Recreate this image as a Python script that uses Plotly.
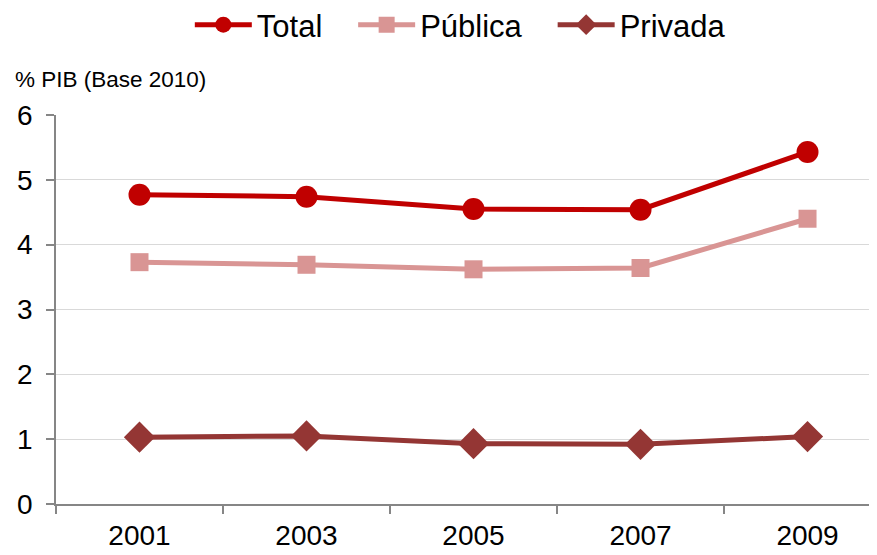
import plotly.graph_objects as go

years = ["2001", "2003", "2005", "2007", "2009"]
total = [4.77, 4.74, 4.55, 4.54, 5.43]
publica = [3.73, 3.69, 3.62, 3.64, 4.40]
privada = [1.03, 1.05, 0.93, 0.92, 1.04]
series_names = ["Total", "Pública", "Privada"]

FONT = "Liberation Sans, Arial, sans-serif"
PAD = "\u00a0\u00a0\u00a0"  # extra spacing after legend entries

fig = go.Figure()
fig.add_trace(go.Scatter(x=years, y=total, name=series_names[0] + PAD, mode="lines+markers",
                         line=dict(color="#C00000", width=5),
                         marker=dict(symbol="circle", size=22, color="#C00000")))
fig.add_trace(go.Scatter(x=years, y=publica, name=series_names[1] + PAD, mode="lines+markers",
                         line=dict(color="#D99594", width=5),
                         marker=dict(symbol="square", size=18, color="#D99594")))
fig.add_trace(go.Scatter(x=years, y=privada, name=series_names[2], mode="lines+markers",
                         line=dict(color="#943634", width=5),
                         marker=dict(symbol="diamond", size=24, color="#943634")))

# page body has an 8px margin, so the figure is sized to fill the rest of the window
fig.update_layout(
    width=869, height=547,
    margin=dict(l=48, r=0, t=107, b=51, autoexpand=False),
    paper_bgcolor="white", plot_bgcolor="white",
    font=dict(family=FONT, color="black"),
    showlegend=True,
    legend=dict(orientation="h", xref="container", yref="paper",
                x=0.5205, xanchor="center", y=1.0 + (107 - 17) / 389, yanchor="middle",
                font=dict(size=31, family=FONT), itemwidth=57,
                bgcolor="rgba(0,0,0,0)"),
    xaxis=dict(type="category", range=[-0.5, 4.416], tickson="boundaries",
               ticks="outside", ticklen=8, tickcolor="#868686", tickwidth=1.5,
               showline=True, linecolor="#868686", linewidth=1.5,
               showgrid=False, tickfont=dict(size=28, family=FONT),
               zeroline=False, ticklabelstandoff=6),
    yaxis=dict(range=[0, 6], dtick=1, ticks="outside", ticklen=8,
               tickcolor="#868686", tickwidth=1.5,
               showline=True, linecolor="#868686", linewidth=1.5,
               showgrid=True, gridcolor="#D9D9D9", gridwidth=1,
               zeroline=False, tickfont=dict(size=28, family=FONT),
               ticklabelstandoff=8),
    annotations=[dict(text="% PIB (Base 2010)", xref="paper", yref="paper",
                      x=-43/821, xanchor="left", y=1.0 + 36/389, yanchor="middle",
                      showarrow=False, font=dict(size=22.5, family=FONT))],
)

fig.write_html("out.html")
